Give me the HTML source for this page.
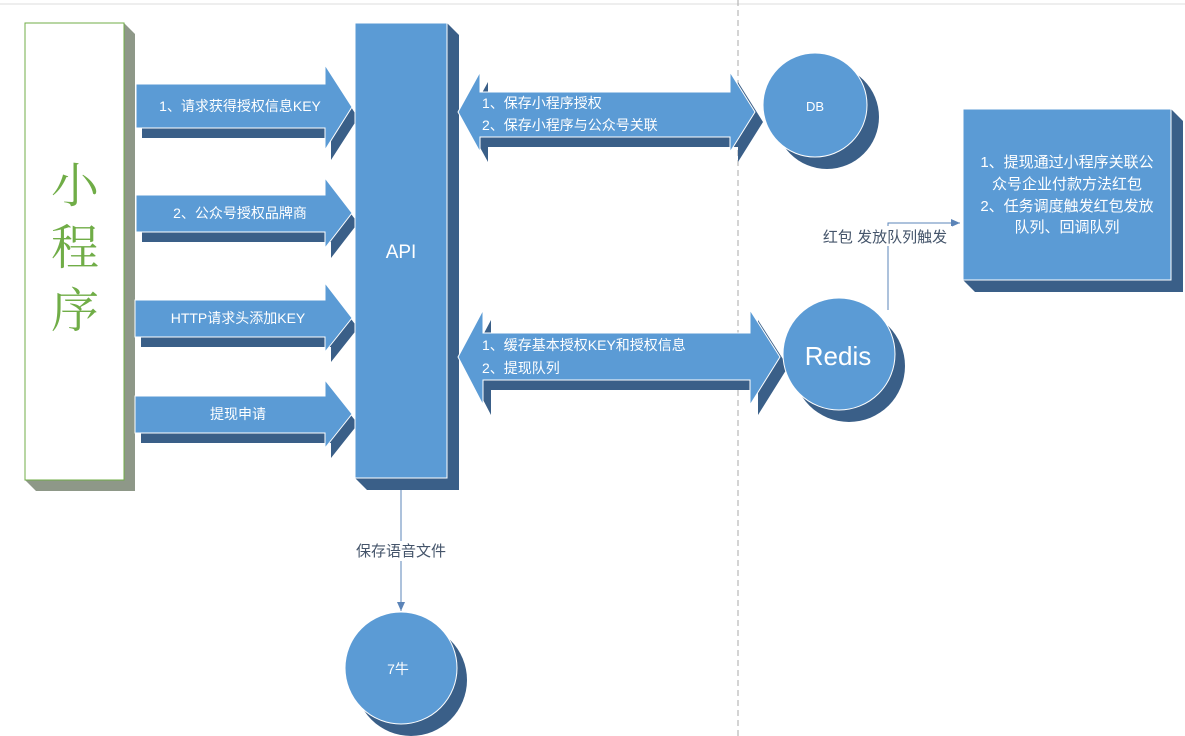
<!DOCTYPE html>
<html><head><meta charset="utf-8"><style>
html,body{margin:0;padding:0;background:#fff;}
svg{display:block;}
text{font-family:"Liberation Sans","Noto Sans CJK SC",sans-serif;}
</style></head><body>
<svg width="1185" height="736" viewBox="0 0 1185 736" xmlns="http://www.w3.org/2000/svg">
<defs>
<marker id="ar" markerWidth="10" markerHeight="10" refX="9" refY="5" orient="auto" markerUnits="userSpaceOnUse">
<path d="M0,1 L9,5 L0,9 Z" fill="#5b84b8"/>
</marker>
</defs>
<!-- ruler -->
<line x1="0" y1="4" x2="1185" y2="4" stroke="#ddd" stroke-width="1"/>
<!-- dashed separator -->
<line x1="738" y1="0" x2="738" y2="736" stroke="#aaa" stroke-width="1" stroke-dasharray="6,4"/>

<!-- 小程序 box -->
<polygon points="124,23 135,34 135,491 36,491 25,480 124,480" fill="#8e9888"/>
<rect x="25" y="23" width="99" height="457" fill="#fff" stroke="#70ad47" stroke-width="1"/>
<text x="75" y="202" font-size="48" fill="#70ad47" text-anchor="middle" style='font-family:"Noto Serif CJK SC",serif'>小</text>
<text x="75" y="264" font-size="48" fill="#70ad47" text-anchor="middle" style='font-family:"Noto Serif CJK SC",serif'>程</text>
<text x="75" y="327" font-size="48" fill="#70ad47" text-anchor="middle" style='font-family:"Noto Serif CJK SC",serif'>序</text>

<!-- right arrows -->
<g stroke="#fff" stroke-width="1">
<polygon points="142,94 331,94 331,75 358,118 331,160 331,138 142,138" fill="#3a5f88" stroke="none"/>
<polygon points="136,84 325,84 325,65 352,107 325,150 325,128 136,128" fill="#5b9bd5"/>
<polygon points="142,205 331,205 331,188 358,223 331,258 331,242 142,242" fill="#3a5f88" stroke="none"/>
<polygon points="136,195 325,195 325,178 352,213 325,248 325,232 136,232" fill="#5b9bd5"/>
<polygon points="141,310 331,310 331,293 358,328 331,362 331,347 141,347" fill="#3a5f88" stroke="none"/>
<polygon points="135,300 325,300 325,283 352,318 325,352 325,337 135,337" fill="#5b9bd5"/>
<polygon points="141,406 331,406 331,390 358,424 331,458 331,443 141,443" fill="#3a5f88" stroke="none"/>
<polygon points="135,396 325,396 325,380 352,414 325,448 325,433 135,433" fill="#5b9bd5"/>
</g>
<g fill="#fff" font-size="14" text-anchor="middle">
<text x="240" y="111">1、请求获得授权信息KEY</text>
<text x="240" y="218">2、公众号授权品牌商</text>
<text x="238" y="323">HTTP请求头添加KEY</text>
<text x="238" y="419">提现申请</text>
</g>

<!-- API -->
<polygon points="447,23 459,35 459,490 367,490 355,478 447,478" fill="#3a5f88"/>
<rect x="355" y="23" width="92" height="455" fill="#5b9bd5" stroke="#fff" stroke-width="1"/>
<text x="401" y="258" font-size="19" fill="#fff" text-anchor="middle">API</text>

<!-- DB double arrow -->
<g stroke="#fff" stroke-width="1">
<polygon points="466,122 488,82 488,102 738,102 738,82 763,122 738,162 738,147 488,147 488,162" fill="#3a5f88" stroke="none"/>
<polygon points="458,112 480,72 480,92 730,92 730,72 755,112 730,152 730,137 480,137 480,152" fill="#5b9bd5"/>
<polygon points="466,367 491,320 491,343 758,343 758,320 788,367 758,415 758,390 491,390 491,415" fill="#3a5f88" stroke="none"/>
<polygon points="458,357 483,310 483,333 750,333 750,310 780,357 750,405 750,380 483,380 483,405" fill="#5b9bd5"/>
</g>
<g fill="#fff" font-size="14">
<text x="482" y="108">1、保存小程序授权</text>
<text x="482" y="130">2、保存小程序与公众号关联</text>
<text x="482" y="350">1、缓存基本授权KEY和授权信息</text>
<text x="482" y="373">2、提现队列</text>
</g>

<!-- DB circle -->
<circle cx="827" cy="117" r="52" fill="#3a5f88"/>
<circle cx="815" cy="105" r="52" fill="#5b9bd5" stroke="#fff" stroke-width="1"/>
<text x="815" y="111" font-size="13" fill="#fff" text-anchor="middle">DB</text>

<!-- Redis connector -->
<polyline points="888,310 888,223 960,223" fill="none" stroke="#5b84b8" stroke-width="1" marker-end="url(#ar)"/>
<rect x="818" y="226" width="134" height="20" fill="#fff"/>
<text x="885" y="242" font-size="15" fill="#44546a" text-anchor="middle">红包 发放队列触发</text>

<!-- Redis circle -->
<circle cx="849" cy="366" r="56" fill="#3a5f88"/>
<circle cx="839" cy="354" r="56" fill="#5b9bd5" stroke="#fff" stroke-width="1"/>
<text x="838" y="365" font-size="26" fill="#fff" text-anchor="middle">Redis</text>

<!-- right box -->
<polygon points="1171,109 1183,121 1183,292 975,292 963,280 1171,280" fill="#3a5f88"/>
<rect x="963" y="109" width="208" height="171" fill="#5b9bd5" stroke="#fff" stroke-width="1"/>
<g fill="#fff" font-size="15" text-anchor="middle">
<text x="1067" y="167">1、提现通过小程序关联公</text>
<text x="1067" y="189">众号企业付款方法红包</text>
<text x="1067" y="211">2、任务调度触发红包发放</text>
<text x="1067" y="232">队列、回调队列</text>
</g>

<!-- API to 7牛 -->
<line x1="401" y1="490" x2="401" y2="611" stroke="#5b84b8" stroke-width="1" marker-end="url(#ar)"/>
<rect x="352" y="541" width="98" height="20" fill="#fff"/>
<text x="401" y="556" font-size="15" fill="#44546a" text-anchor="middle">保存语音文件</text>

<!-- 7牛 circle -->
<circle cx="411" cy="680" r="56" fill="#3a5f88"/>
<circle cx="401" cy="668" r="56" fill="#5b9bd5" stroke="#fff" stroke-width="1"/>
<text x="398" y="674" font-size="14" fill="#fff" text-anchor="middle">7牛</text>
</svg>
</body></html>
